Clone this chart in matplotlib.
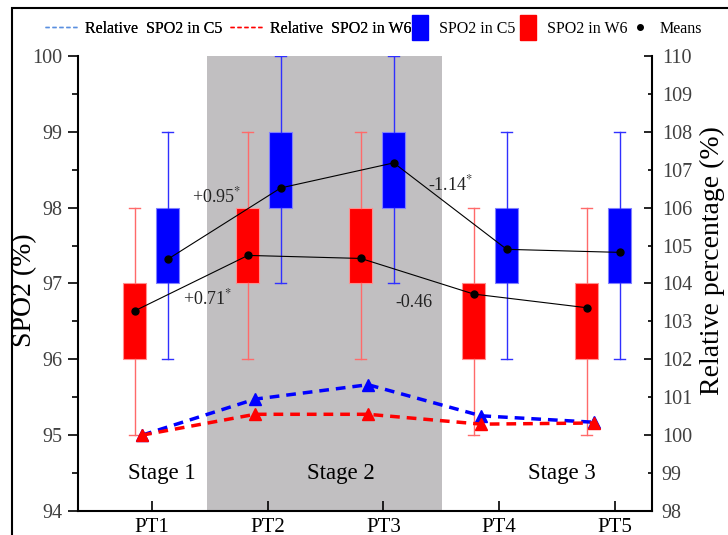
import matplotlib
matplotlib.use("Agg")
import matplotlib.pyplot as plt
import matplotlib.patches as mpatches
from matplotlib.lines import Line2D
from matplotlib.legend_handler import HandlerPatch
import numpy as np

plt.rcParams['font.family'] = ['Liberation Serif', 'DejaVu Serif']
plt.rcParams['mathtext.fontset'] = 'stix'

# data
pts = ['PT1', 'PT2', 'PT3', 'PT4', 'PT5']

c5_lo = [96, 97, 97, 96, 96]
c5_q1 = [97, 98, 98, 97, 97]
c5_q3 = [98, 99, 99, 98, 98]
c5_hi = [99, 100, 100, 99, 99]
c5_mean = [97.32, 98.26, 98.59, 97.45, 97.41]

w6_lo = [95, 96, 96, 95, 95]
w6_q1 = [96, 97, 97, 96, 96]
w6_q3 = [97, 98, 98, 97, 97]
w6_hi = [98, 99, 99, 98, 98]
w6_mean = [96.64, 97.37, 97.33, 96.86, 96.68]

rel_c5 = [100.0, 100.95, 101.33, 100.51, 100.34]
rel_w6 = [100.0, 100.55, 100.55, 100.29, 100.32]

diff_labels = [r'+0.95$^{*}$', r'+0.71$^{*}$', r'-1.14$^{*}$', '-0.46']
stages = ['Stage 1', 'Stage 2', 'Stage 3']

# layout
ticks_x = np.arange(1, 6)
centers = 0.995 + np.arange(5) * 0.976
w6_pos = centers - 0.142
c5_pos = centers + 0.142
rel_pos = centers - 0.08

fig = plt.figure(figsize=(7.28, 5.35), dpi=100)
ax = fig.add_axes([0.1071, 0.0449, 0.7885, 0.8505])
ax2 = ax.twinx()

ax.axvspan(1.48, 3.505, color='#c1bfc1', lw=0, zorder=0)

def stats(lo, q1, q3, hi):
    return [dict(med=c, q1=b, q3=c, whislo=a, whishi=d, fliers=[])
            for a, b, c, d in zip(lo, q1, q3, hi)]

ax.bxp(stats(w6_lo, w6_q1, w6_q3, w6_hi), positions=w6_pos, widths=0.2,
       patch_artist=True, showfliers=False, manage_ticks=False, capwidths=0.095,
       boxprops=dict(facecolor='#ff0000', edgecolor='#ff9090', lw=0.8),
       whiskerprops=dict(color='#ff6a6a', lw=1),
       capprops=dict(color='#ff6a6a', lw=1),
       medianprops=dict(visible=False), zorder=2)
ax.bxp(stats(c5_lo, c5_q1, c5_q3, c5_hi), positions=c5_pos, widths=0.2,
       patch_artist=True, showfliers=False, manage_ticks=False, capwidths=0.095,
       boxprops=dict(facecolor='#0000ff', edgecolor='#8080ff', lw=0.8),
       whiskerprops=dict(color='#3030ff', lw=1),
       capprops=dict(color='#3030ff', lw=1),
       medianprops=dict(visible=False), zorder=2)

# means
ax.plot(c5_pos, c5_mean, color='black', lw=0.8, marker='o', ms=5, zorder=4)
ax.plot(w6_pos, w6_mean, color='black', lw=0.8, marker='o', ms=5, zorder=4)

# differences
diff_xy = [(1.56, 98.15), (1.48, 96.8), (3.58, 98.3), (3.26, 96.75)]
for (x, y), s in zip(diff_xy, diff_labels):
    ax.text(x, y, s, fontsize=13, ha='center', va='center', color='#222222', zorder=5)

# stages
for x, s in zip([1.086, 2.633, 4.54], stages):
    ax.text(x, 94.49, s, fontsize=16.5, ha='center', va='center', zorder=5)

# relative percentages
ax2.plot(rel_pos, rel_c5, color='#0000ff', lw=2.5, dashes=(2.8, 2.0),
         marker='^', ms=9, zorder=3)
ax2.plot(rel_pos, rel_w6, color='#ff0000', lw=2.5, dashes=(2.8, 2.0),
         marker='^', ms=9, zorder=3)

ax.set_xlim(0.361, 5.32)
ax.set_ylim(94, 100)
ax2.set_ylim(98, 110)

ax.set_xticks(ticks_x, labels=pts)
ax.set_yticks(np.arange(94, 101))
ax.set_yticks(np.arange(94.5, 100, 1), minor=True)
ax2.set_yticks(np.arange(98, 111, 2))
ax2.set_yticks(np.arange(99, 110, 2), labels=[str(v) for v in range(99, 110, 2)], minor=True)

ax.tick_params(axis='y', which='major', direction='out', length=7, width=1.2, pad=4,
               labelsize=14.5, labelcolor='#404040')
ax.tick_params(axis='y', which='minor', direction='out', length=4, width=1.2)
ax.tick_params(axis='x', direction='in', length=7, width=1.2, pad=5, labelsize=15)
ax2.tick_params(axis='y', which='both', direction='in', width=1.2, pad=7,
                labelsize=14.5, labelcolor='#404040')
ax2.tick_params(axis='y', which='major', length=6)
ax2.tick_params(axis='y', which='minor', length=3)

for s in ['top', 'right']:
    ax.spines[s].set_visible(False)
for s in ['top', 'left', 'bottom']:
    ax2.spines[s].set_visible(False)
for sp in [ax.spines['left'], ax.spines['bottom'], ax2.spines['right']]:
    sp.set_linewidth(1.5)

ax.set_ylabel('SPO2 (%)', fontsize=20)
ax.yaxis.set_label_coords(-0.072, 0.486)
ax2.set_ylabel('Relative percentage (%)', fontsize=20)
ax2.yaxis.set_label_coords(1.083, 0.55)

# legend
def tall_patch(legend, orig_handle, xdescent, ydescent, width, height, fontsize):
    return mpatches.Rectangle((-xdescent, -ydescent - 5), width, height + 10)

h1 = [Line2D([], [], color='#5a8fe0', ls='--', lw=1, dashes=(3, 2)),
      Line2D([], [], color='#ff0000', ls='--', lw=1, dashes=(3, 2))]
l1 = ['Relative  SPO2 in C5', 'Relative  SPO2 in W6']
h2 = [mpatches.Patch(color='#0000ff'), mpatches.Patch(color='#ff0000'),
      Line2D([], [], color='black', marker='o', ms=4, ls='none')]
l2 = ['SPO2 in C5', 'SPO2 in W6', 'Means']

leg1 = fig.legend(h1, l1, loc='center left', bbox_to_anchor=(0.062, 0.946), ncol=2,
                  frameon=False, fontsize=11.5, handlelength=2.13, handletextpad=0.38,
                  columnspacing=0.44, borderpad=0, borderaxespad=0)
leg2 = fig.legend(h2, l2, loc='center left', bbox_to_anchor=(0.566, 0.946), ncol=3,
                  frameon=False, fontsize=11.5, handlelength=1.0, handletextpad=0.69,
                  columnspacing=0.3, borderpad=0, borderaxespad=0,
                  handler_map={mpatches.Patch: HandlerPatch(patch_func=tall_patch)})
fig.add_artist(leg1)

# outer frame
fig.patches.append(mpatches.Rectangle((12 / 728, -0.5), 2, 1.5 - 8 / 535,
                                      transform=fig.transFigure, fill=False,
                                      lw=1.5, ec='black'))

fig.savefig('out.png', dpi=100)
